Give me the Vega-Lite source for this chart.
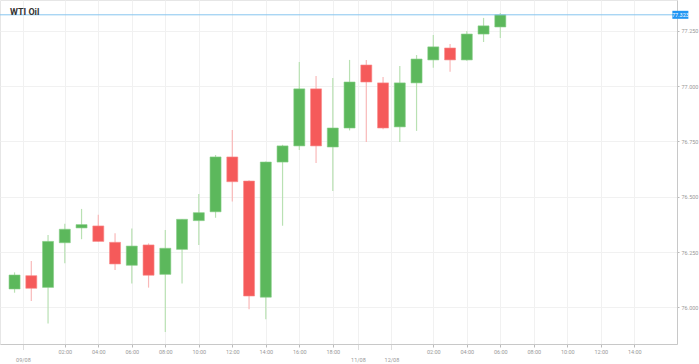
{
  "$schema": "https://vega.github.io/schema/vega-lite/v6.json",
  "width": 677,
  "height": 344,
  "autosize": "none",
  "padding": {"left": 0, "top": 0, "right": 22, "bottom": 20},
  "background": "white",
  "title": {"text": "WTI Oil", "anchor": "start", "frame": "group", "dx": 10, "offset": -24, "baseline": "alphabetic", "fontSize": 9, "fontWeight": "bold", "color": "#333333", "font": "Roboto"},
  "config": {"view": {"stroke": "#e6e6e6"}, "font": "Roboto", "axis": {"labelOverlap": false}},
  "datasets": {
    "candles": [
      {"i": 0, "open": 76.083, "high": 76.158, "low": 76.066, "close": 76.146},
      {"i": 1, "open": 76.143, "high": 76.209, "low": 76.028, "close": 76.086},
      {"i": 2, "open": 76.090, "high": 76.327, "low": 75.927, "close": 76.298},
      {"i": 3, "open": 76.292, "high": 76.378, "low": 76.199, "close": 76.353},
      {"i": 4, "open": 76.359, "high": 76.445, "low": 76.308, "close": 76.374},
      {"i": 5, "open": 76.368, "high": 76.419, "low": 76.296, "close": 76.298},
      {"i": 6, "open": 76.294, "high": 76.335, "low": 76.169, "close": 76.196},
      {"i": 7, "open": 76.190, "high": 76.357, "low": 76.108, "close": 76.277},
      {"i": 8, "open": 76.282, "high": 76.289, "low": 76.089, "close": 76.145},
      {"i": 9, "open": 76.149, "high": 76.350, "low": 75.888, "close": 76.267},
      {"i": 10, "open": 76.262, "high": 76.398, "low": 76.108, "close": 76.398},
      {"i": 11, "open": 76.392, "high": 76.512, "low": 76.282, "close": 76.428},
      {"i": 12, "open": 76.432, "high": 76.689, "low": 76.405, "close": 76.680},
      {"i": 13, "open": 76.680, "high": 76.802, "low": 76.478, "close": 76.568},
      {"i": 14, "open": 76.571, "high": 76.575, "low": 75.991, "close": 76.051},
      {"i": 15, "open": 76.046, "high": 76.660, "low": 75.946, "close": 76.657},
      {"i": 16, "open": 76.657, "high": 76.735, "low": 76.369, "close": 76.730},
      {"i": 17, "open": 76.730, "high": 77.110, "low": 76.712, "close": 76.988},
      {"i": 18, "open": 76.988, "high": 77.046, "low": 76.653, "close": 76.730},
      {"i": 19, "open": 76.725, "high": 77.037, "low": 76.526, "close": 76.811},
      {"i": 20, "open": 76.811, "high": 77.119, "low": 76.800, "close": 77.019},
      {"i": 21, "open": 77.096, "high": 77.119, "low": 76.748, "close": 77.019},
      {"i": 22, "open": 77.015, "high": 77.042, "low": 76.805, "close": 76.811},
      {"i": 23, "open": 76.816, "high": 77.092, "low": 76.748, "close": 77.015},
      {"i": 24, "open": 77.015, "high": 77.141, "low": 76.798, "close": 77.123},
      {"i": 25, "open": 77.119, "high": 77.232, "low": 77.083, "close": 77.178},
      {"i": 26, "open": 77.173, "high": 77.191, "low": 77.065, "close": 77.119},
      {"i": 27, "open": 77.119, "high": 77.250, "low": 77.115, "close": 77.236},
      {"i": 28, "open": 77.236, "high": 77.309, "low": 77.200, "close": 77.273},
      {"i": 29, "open": 77.268, "high": 77.331, "low": 77.218, "close": 77.323}
    ],
    "last": [{"price": 77.323, "label": "77.323"}]
  },
  "layer": [
    {
      "data": {"name": "candles"},
      "mark": {"type": "rule", "strokeWidth": 1.2},
      "encoding": {
        "x": {
          "field": "i", "type": "quantitative",
          "scale": {"domain": [-0.57, 39.25], "nice": false, "zero": false},
          "axis": {
            "title": null, "orient": "bottom",
            "values": [0.5, 3, 5, 7, 9, 11, 13, 15, 17, 19, 20.5, 22.5, 25, 27, 29, 31, 33, 35, 37],
            "tickCount": 40,
            "labelExpr": "datum.value == 0.5 ? '09/08' : datum.value == 20.5 ? '11/08' : datum.value == 22.5 ? '12/08' : (datum.value <= 19 ? format(datum.value - 1, '02d') : format(datum.value - 23, '02d')) + ':00'",
            "labelFontSize": 5.5, "labelColor": "#999999", "labelFont": "Roboto",
            "labelPadding": {"condition": {"test": "datum.value % 1 != 0", "value": 8}, "value": 2},
            "tickSize": {"condition": {"test": "datum.value % 1 != 0", "value": 5}, "value": 3},
            "tickDash": {"condition": {"test": "datum.value % 1 != 0", "value": [1, 1]}, "value": []},
            "tickColor": "#bbbbbb", "domainColor": "#c8c8c8",
            "grid": true, "gridColor": "#f1f1f1", "gridWidth": 1,
            "labelFlush": false, "labelOverlap": false
          }
        },
        "y": {
          "field": "low", "type": "quantitative",
          "scale": {"domain": [75.834, 77.39], "nice": false, "zero": false},
          "axis": {
            "title": null, "orient": "right",
            "values": [76, 76.25, 76.5, 76.75, 77, 77.25],
            "tickCount": 10,
            "format": ".3f",
            "labelFontSize": 5.5, "labelColor": "#999999", "labelFont": "Roboto",
            "labelPadding": 2, "tickSize": 2, "tickColor": "#bbbbbb",
            "domainColor": "#c8c8c8",
            "grid": true, "gridColor": "#f1f1f1", "gridWidth": 1
          }
        },
        "y2": {"field": "high"},
        "color": {"condition": {"test": "datum.close >= datum.open", "value": "#b9e1b3"}, "value": "#f9b9b9"}
      }
    },
    {
      "data": {"name": "candles"},
      "mark": {"type": "bar", "width": 11, "strokeWidth": 0.6},
      "encoding": {
        "x": {"field": "i", "type": "quantitative"},
        "y": {"field": "open", "type": "quantitative"},
        "y2": {"field": "close"},
        "color": {"condition": {"test": "datum.close >= datum.open", "value": "#5cb85c"}, "value": "#f55a5a"},
        "stroke": {"condition": {"test": "datum.close >= datum.open", "value": "#84cc84"}, "value": "#f98a8a"}
      }
    },
    {
      "data": {"name": "last"},
      "mark": {"type": "rule", "color": "#86c5ef", "strokeWidth": 1},
      "encoding": {"y": {"field": "price", "type": "quantitative"}}
    },
    {
      "data": {"name": "last"},
      "mark": {"type": "point", "shape": "M-1,-0.5L1,-0.5L1,0.5L-1,0.5Z", "size": 256, "filled": true, "color": "#2196f3", "opacity": 1, "clip": false},
      "encoding": {"x": {"datum": 39.75, "type": "quantitative"}, "y": {"field": "price", "type": "quantitative"}}
    },
    {
      "data": {"name": "last"},
      "mark": {"type": "text", "color": "white", "fontSize": 5.5, "font": "Roboto", "align": "center", "baseline": "middle", "clip": false},
      "encoding": {"x": {"datum": 39.75, "type": "quantitative"}, "y": {"field": "price", "type": "quantitative"}, "text": {"field": "label"}}
    }
  ]
}
